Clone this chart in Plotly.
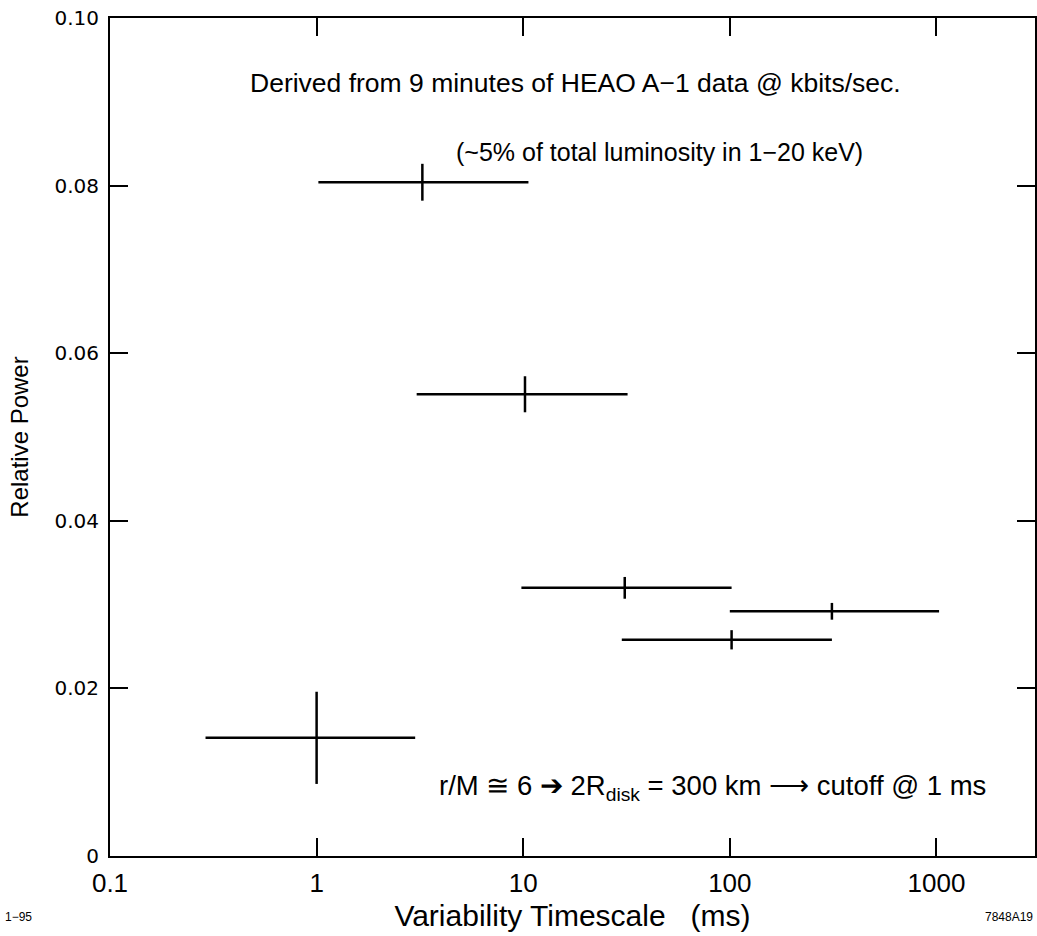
import numpy as np
import plotly.graph_objects as go

# Data
timescale_ms = [3.25, 10.2, 31.0, 312.0, 102.0, 1.0]
x_low = [1.02, 3.05, 9.8, 100.0, 30.0, 0.29]
x_high = [10.6, 32.0, 102.0, 1030.0, 312.0, 3.0]
relative_power = [0.0804, 0.0551, 0.0320, 0.0292, 0.0258, 0.0141]
power_err = [0.0022, 0.00215, 0.0013, 0.0010, 0.00115, 0.0055]

x_tickvals = [0.1, 1, 10, 100, 1000]
x_ticktext = ["0.1", "1", "10", "100", "1000"]
y_tickvals = [0, 0.02, 0.04, 0.06, 0.08, 0.10]
y_ticktext = ["0", "0.02", "0.04", "0.06", "0.08", "0.10"]

err_plus = [h - c for h, c in zip(x_high, timescale_ms)]
err_minus = [c - l for l, c in zip(x_low, timescale_ms)]

FONT = "Liberation Sans, Arial, sans-serif"
WIDE = "DejaVu Sans, Verdana, sans-serif"

L, R, T, B = 110, 2, 18, 80
PW, PH = 1037 - L - R, 936 - T - B


def px(xp):
    return (xp - L) / PW


def py(yp):
    return (936 - B - yp) / PH


fig = go.Figure()
fig.add_trace(go.Scatter(
    x=timescale_ms, y=relative_power, mode="markers",
    marker=dict(size=0.1, color="black"),
    error_x=dict(type="data", symmetric=False, array=err_plus, arrayminus=err_minus,
                 thickness=2.5, width=0, color="black"),
    error_y=dict(type="data", array=power_err, thickness=2.5, width=0, color="black"),
    showlegend=False, hoverinfo="x+y",
))

fig.update_layout(
    width=1037, height=936,
    margin=dict(l=L, r=R, t=T, b=B, autoexpand=False),
    paper_bgcolor="white", plot_bgcolor="white",
    font=dict(family=FONT, color="black", size=20),
    xaxis=dict(
        type="log", range=[-1, np.log10(3000)],
        tickvals=x_tickvals, ticktext=x_ticktext,
        ticks="inside", ticklen=18, tickwidth=1.5, tickcolor="black",
        showline=True, linecolor="black", linewidth=2, mirror="ticks",
        showgrid=False, zeroline=False, automargin=False,
        tickfont=dict(size=26), ticklabelstandoff=3,
        title=dict(text="Variability Timescale   (ms)", font=dict(size=30), standoff=8),
    ),
    yaxis=dict(
        range=[0, 0.10],
        tickvals=y_tickvals, ticktext=y_ticktext,
        ticks="inside", ticklen=18, tickwidth=1.5, tickcolor="black",
        showline=True, linecolor="black", linewidth=2, mirror="ticks",
        showgrid=False, zeroline=False, automargin=False,
        tickfont=dict(size=20, family=WIDE), ticklabelstandoff=5,
        title=dict(text="Relative Power", font=dict(size=24), standoff=19),
    ),
)

fig.add_annotation(text="Derived from 9 minutes of HEAO A\u22121 data @ kbits/sec.",
                   xref="paper", yref="paper", x=px(575), y=py(83),
                   showarrow=False, font=dict(size=26.5), xanchor="center", yanchor="middle")
fig.add_annotation(text="(~5% of total luminosity in 1\u221220 keV)",
                   xref="paper", yref="paper", x=px(659), y=py(152),
                   showarrow=False, font=dict(size=25), xanchor="center", yanchor="middle")
fig.add_annotation(text="r/M \u2245 6 \u2794 2R<sub>disk</sub> = 300 km \u27f6 cutoff @ 1 ms",
                   xref="paper", yref="paper", x=px(712), y=py(787),
                   showarrow=False, font=dict(size=27.5), xanchor="center", yanchor="middle")
fig.add_annotation(text="1\u221295", xref="paper", yref="paper",
                   x=px(3), y=py(917), showarrow=False,
                   font=dict(size=12), xanchor="left", yanchor="middle")
fig.add_annotation(text="7848A19", xref="paper", yref="paper",
                   x=px(1035), y=py(917), showarrow=False,
                   font=dict(size=12), xanchor="right", yanchor="middle")

fig.write_html("out.html", config={"displayModeBar": False},
               post_script="document.body.style.margin='0';document.body.style.overflow='hidden';")
